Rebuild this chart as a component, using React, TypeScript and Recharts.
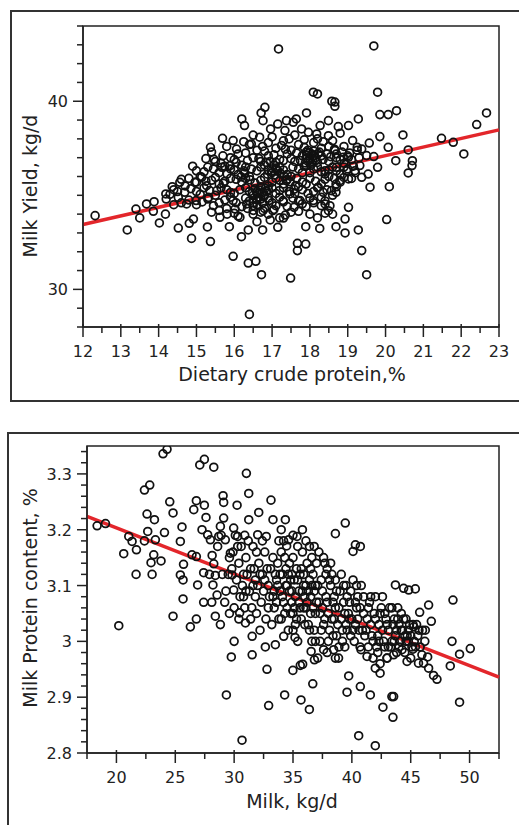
import { ScatterChart, Scatter, XAxis, YAxis, ReferenceLine, ReferenceArea } from "recharts";

const FONT = "'DejaVu Sans', Verdana, sans-serif";
const INK = "#222";
const RED = "#e3262b";

type Pt = [number, number];

// ---- top panel: dietary crude protein (%) vs milk yield (kg/d) ----
const yieldSparse: Pt[] = [
  [12.32, 33.92], [13.17, 33.16], [13.4, 34.27], [13.5, 33.8], [13.68, 34.54], [13.88, 34.66],
  [13.86, 34.15], [14.02, 33.53], [14.19, 35.07], [14.18, 34.0], [14.36, 35.46], [14.52, 33.26],
  [14.87, 32.71], [14.81, 33.51], [14.92, 33.74], [15.29, 33.32], [15.37, 32.54], [15.37, 37.55],
  [15.69, 38.03], [15.46, 36.91], [15.62, 33.83], [15.87, 33.33], [15.97, 31.76], [16.37, 31.4],
  [16.57, 31.49], [16.72, 30.78], [16.4, 28.67], [17.49, 30.6], [17.17, 42.78], [19.69, 42.94],
  [19.79, 40.48], [19.37, 32.06], [19.5, 30.78], [20.03, 33.71], [20.1, 35.46], [21.48, 38.03],
  [21.79, 37.82], [22.07, 37.2], [22.41, 38.76], [22.67, 39.38], [20.29, 39.5], [20.07, 39.29],
  [19.85, 39.29], [20.46, 38.21], [20.6, 37.41], [20.71, 36.84], [20.7, 36.58], [20.6, 36.19],
  [20.27, 36.84], [20.07, 37.55], [19.85, 38.12], [19.79, 36.49], [19.59, 35.43], [19.57, 37.78],
  [19.28, 39.06], [19.02, 38.71], [19.02, 35.87], [19.02, 34.36], [18.93, 33.74], [18.93, 33.0],
  [18.69, 33.33], [19.28, 33.16], [18.26, 33.24], [17.89, 33.33], [18.0, 34.0], [17.67, 32.45],
  [17.89, 32.41], [17.67, 32.06], [17.58, 34.36], [17.15, 33.3], [17.3, 33.79], [16.95, 33.69],
  [16.75, 33.16], [16.37, 33.16], [16.19, 32.8], [18.53, 34.45], [18.49, 34.18], [18.4, 34.54],
  [18.09, 40.48], [18.2, 40.39], [17.91, 39.38], [18.58, 40.0], [18.66, 39.96], [18.66, 39.73],
  [16.81, 39.68], [16.71, 39.38], [16.2, 39.06], [16.27, 38.71], [16.76, 38.97], [17.15, 38.79],
  [17.38, 38.97], [17.64, 39.06], [17.56, 38.88], [18.49, 38.97], [18.27, 38.71], [18.75, 38.65],
  [15.97, 37.91], [16.06, 37.46], [16.96, 38.53], [16.67, 38.09], [16.45, 37.73], [17.34, 38.44],
  [17.78, 38.53], [17.96, 38.35], [18.18, 38.26], [18.49, 38.17], [18.66, 37.38], [19.13, 37.91],
  [19.25, 37.55], [19.37, 37.46], [19.5, 37.11], [19.69, 37.06], [19.32, 36.58], [19.19, 36.31],
  [19.54, 36.13], [19.37, 35.96], [19.02, 37.02], [18.69, 35.6], [18.69, 35.16], [18.35, 35.16],
  [18.4, 36.13],
];

const yieldEdge: Pt[] = [
  [14.56, 35.69], [14.69, 35.16], [14.52, 34.89], [14.74, 34.54], [14.99, 34.72], [14.96, 35.69],
  [15.14, 35.96], [15.27, 35.51], [15.32, 34.89], [15.54, 35.25], [15.71, 35.64], [15.67, 36.49],
  [15.81, 36.13], [15.89, 36.58], [15.97, 34.72], [15.81, 34.0], [16.02, 34.27], [16.15, 33.83],
  [16.33, 34.54], [16.5, 34.0], [16.76, 34.18], [17.02, 34.18], [17.29, 34.72], [17.47, 35.07],
  [17.74, 34.72], [18.09, 34.72], [18.22, 35.43], [18.57, 35.25], [18.79, 35.78], [18.7, 36.49],
  [18.97, 36.31], [18.88, 37.02],
];

const yieldCore: Pt[] = [
  [15.8, 37.6], [16.1, 37.2], [16.4, 37.7], [16.6, 37.4], [16.9, 37.8], [17.1, 37.5], [17.3, 37.9],
  [17.5, 37.4], [17.7, 37.7], [17.9, 37.3], [18.1, 37.8], [18.3, 37.5], [18.5, 37.6], [18.7, 37.2],
  [18.9, 37.6], [17.0, 38.1], [17.6, 38.2], [18.2, 38.0],
  [15.5, 36.8], [15.7, 37.1], [16.0, 36.9], [16.2, 36.6], [16.5, 37.0], [16.7, 36.8], [16.9, 37.1],
  [17.2, 36.9], [17.4, 37.2], [17.6, 36.8], [17.8, 37.1], [18.0, 36.9], [18.05, 37.2], [17.95, 37.4],
  [18.15, 37.0], [18.3, 37.1], [18.5, 36.8], [18.7, 37.0], [18.9, 36.7], [19.1, 36.9], [19.3, 37.0],
  [15.0, 36.3], [15.3, 36.5], [15.6, 36.2], [15.9, 36.4], [16.1, 36.1], [16.3, 36.5], [16.6, 36.3],
  [16.8, 36.6], [17.0, 36.2], [17.2, 36.5], [17.4, 36.1], [17.7, 36.4], [17.9, 36.6], [18.0, 36.2],
  [18.2, 36.5], [18.4, 36.3], [18.6, 36.5], [18.8, 36.1], [19.0, 36.4], [19.2, 36.2],
  [14.8, 35.9], [15.1, 36.0], [15.4, 35.8], [15.6, 35.6], [15.9, 35.9], [16.2, 35.7], [16.4, 36.0],
  [16.7, 35.8], [16.9, 35.5], [17.1, 35.9], [17.3, 35.6], [17.5, 36.0], [17.8, 35.7], [18.0, 35.9],
  [18.3, 35.6], [18.5, 36.0], [18.8, 35.7], [19.1, 35.9],
  [14.4, 35.3], [14.7, 35.5], [15.0, 35.2], [15.2, 35.4], [15.5, 35.0], [15.8, 35.3], [16.0, 35.1],
  [16.3, 35.4], [16.5, 35.0], [16.6, 35.2], [16.8, 35.0], [16.9, 35.3], [17.1, 35.1], [17.3, 35.4],
  [17.6, 35.1], [17.8, 35.3], [18.1, 35.2], [18.3, 34.9], [18.6, 35.0],
  [14.2, 34.8], [14.6, 34.6], [15.0, 34.5], [15.3, 34.8], [15.6, 34.6], [15.9, 34.9], [16.2, 34.4],
  [16.4, 34.7], [16.6, 34.5], [16.7, 34.8], [16.8, 34.3], [17.0, 34.6], [17.2, 34.9], [17.4, 34.4],
  [17.7, 34.7], [17.9, 34.4], [18.1, 34.6], [18.4, 34.7],
  [15.4, 34.1], [15.8, 34.3], [16.1, 33.9], [16.5, 34.2], [16.6, 33.6], [16.9, 34.0], [17.2, 33.8],
  [17.5, 34.1], [18.2, 33.8], [18.6, 34.0],
  [17.9, 36.95], [18.05, 36.7], [18.1, 37.35], [17.85, 36.55], [18.2, 36.75],
  [16.55, 35.35], [16.65, 34.9], [16.75, 35.15], [16.5, 34.6],
  [17.05, 36.6], [17.15, 36.3], [16.95, 36.8],
];

const yieldDense: Pt[] = [
  [16.25, 37.85], [16.75, 37.6], [17.25, 37.65], [17.45, 38.0], [17.85, 37.95], [18.35, 37.85],
  [18.6, 37.9], [16.5, 38.2], [18.8, 38.3],
  [15.4, 37.3], [15.9, 37.0], [16.3, 37.25], [16.8, 37.35], [17.05, 37.15], [17.35, 37.45],
  [17.65, 37.25], [17.85, 37.55], [18.25, 37.3], [18.45, 37.2], [18.65, 37.45], [18.85, 37.3],
  [19.05, 37.25], [19.25, 37.4],
  [15.25, 36.95], [15.65, 36.7], [16.05, 36.75], [16.35, 36.85], [16.65, 36.95], [16.85, 36.75],
  [17.1, 36.75], [17.3, 36.85], [17.5, 36.95], [17.75, 36.85], [17.95, 36.8], [18.15, 36.85],
  [18.35, 36.9], [18.55, 37.05], [18.8, 36.9], [19.0, 37.1],
  [14.9, 36.55], [15.2, 36.25], [15.45, 36.4], [15.75, 36.55], [16.0, 36.35], [16.25, 36.3],
  [16.45, 36.4], [16.7, 36.5], [16.9, 36.35], [17.1, 36.45], [17.3, 36.35], [17.55, 36.5],
  [17.8, 36.2], [18.1, 36.4], [18.3, 36.25], [18.5, 36.35], [18.7, 36.3], [18.9, 36.5], [19.15, 36.55],
  [14.6, 35.85], [15.0, 35.7], [15.25, 35.75], [15.5, 35.95], [15.75, 35.75], [16.05, 35.85],
  [16.3, 35.9], [16.55, 35.65], [16.8, 35.95], [17.0, 35.7], [17.2, 35.8], [17.4, 35.85],
  [17.65, 35.9], [17.9, 35.6], [18.15, 35.75], [18.4, 35.85], [18.65, 35.9], [18.9, 35.95],
  [14.3, 35.05], [14.5, 35.2], [14.85, 35.35], [15.1, 35.05], [15.35, 35.25], [15.65, 35.4],
  [15.9, 35.15], [16.15, 35.3], [16.4, 35.2], [16.7, 35.45], [16.85, 35.2], [17.0, 35.4],
  [17.2, 35.25], [17.45, 35.2], [17.7, 35.45], [17.95, 35.1], [18.2, 35.4], [18.45, 35.3], [18.7, 35.45],
  [14.4, 34.5], [14.8, 34.75], [15.15, 34.65], [15.45, 34.45], [15.75, 34.75], [16.05, 34.6],
  [16.3, 34.85], [16.5, 34.45], [16.6, 34.75], [16.75, 34.6], [16.9, 34.85], [17.1, 34.45],
  [17.3, 34.65], [17.55, 34.85], [17.8, 34.55], [18.0, 34.85], [18.3, 34.45],
  [15.6, 34.2], [16.0, 34.05], [16.35, 34.3], [16.7, 34.1], [17.05, 34.25], [17.35, 33.95],
  [17.7, 34.15], [18.4, 34.05],
];

// darkest knots of the cloud
const yieldBlobs: Pt[] = [
  [16.62, 35.08], [16.78, 34.92], [16.68, 35.28], [16.58, 34.82], [16.82, 35.38], [16.48, 35.12],
  [16.92, 34.72], [17.92, 37.12], [18.08, 36.88], [17.98, 37.28], [18.12, 37.12], [17.88, 36.72],
  [18.22, 37.22], [18.02, 36.58], [17.08, 36.08], [16.98, 36.28], [17.22, 36.18], [17.12, 36.38],
  [16.88, 36.12], [17.32, 36.02], [17.48, 35.72], [17.62, 35.52], [17.38, 35.78], [17.58, 35.32],
  [16.28, 36.18], [16.42, 35.82], [16.18, 35.98],
];

const yieldTrend: Pt[] = [[12, 33.45], [23, 38.48]];

const proteinTicks = [
  12, 12.5, 13, 13.5, 14, 14.5, 15, 15.5, 16, 16.5, 17, 17.5, 18, 18.5, 19, 19.5,
  20, 20.5, 21, 21.5, 22, 22.5, 23,
];
const proteinLabels = [12, 13, 14, 15, 16, 17, 18, 19, 20, 21, 22, 23];
const yieldTicks = [28, 29, 30, 31, 32, 33, 34, 35, 36, 37, 38, 39, 40, 41, 42, 43, 44];
const yieldLabels = [30, 40];

// ---- bottom panel: milk yield (kg/d) vs milk protein content (%) ----
const contentSparse: Pt[] = [
  [18.36, 3.207], [19.07, 3.211], [20.2, 3.028], [20.62, 3.157], [21.05, 3.188], [21.33, 3.179],
  [21.7, 3.164], [21.67, 3.12], [22.38, 3.271], [22.83, 3.28], [22.6, 3.228], [22.66, 3.197],
  [22.38, 3.18], [23.03, 3.12], [22.94, 3.141], [23.17, 3.155], [23.31, 3.182], [23.23, 3.218],
  [23.79, 3.144], [24.08, 3.195], [23.96, 3.336], [24.3, 3.344], [24.53, 3.25], [24.81, 3.23],
  [24.81, 3.045], [25.66, 3.076], [25.43, 3.179], [25.57, 3.205], [25.7, 3.138], [25.43, 3.119],
  [25.66, 3.11], [26.28, 3.026], [26.79, 3.04], [26.42, 3.155], [26.79, 3.152], [26.9, 3.101],
  [26.57, 3.236], [26.79, 3.252], [27.08, 3.316], [27.47, 3.326], [28.27, 3.312], [27.47, 3.244],
  [27.61, 3.222], [27.41, 3.123], [27.41, 3.07], [27.27, 3.2], [27.75, 3.191], [27.98, 3.182],
  [28.13, 3.154], [28.27, 3.139], [28.2, 3.101], [28.4, 3.118], [28.55, 3.083], [28.4, 3.045],
  [28.83, 3.03], [28.69, 3.188], [28.83, 3.206], [29.06, 3.261], [29.11, 3.249], [29.11, 3.221],
  [29.25, 3.182], [29.34, 2.904], [29.76, 2.972], [29.68, 3.158], [29.96, 3.203], [29.82, 3.119],
  [30.25, 3.244], [30.3, 3.188], [29.96, 3.092], [30.47, 3.051], [30.67, 2.823], [31.04, 3.301],
  [31.24, 3.265], [31.24, 3.218], [30.96, 3.033], [31.53, 3.009], [31.53, 2.976], [32.09, 3.231],
  [32.0, 3.191], [32.73, 3.188], [32.79, 2.95], [32.93, 2.885], [33.13, 3.253], [33.3, 3.218],
  [34.35, 3.218], [32.65, 2.99], [33.5, 2.994], [34.21, 3.009], [34.29, 2.904], [34.99, 2.948],
  [34.63, 3.182], [35.34, 3.188], [34.46, 3.171], [35.17, 3.007], [35.62, 2.957], [35.82, 2.959],
  [35.68, 2.895], [36.39, 2.878], [36.68, 2.924], [36.82, 2.967], [36.54, 2.982], [38.6, 3.193],
  [39.44, 3.212], [40.1, 3.161], [40.3, 3.173], [40.72, 3.17], [39.59, 2.909], [39.73, 2.938],
  [40.72, 2.919], [41.57, 2.904], [40.58, 2.831], [41.99, 2.813], [42.64, 2.882], [43.4, 2.901],
  [43.55, 2.901], [43.49, 2.864], [41.99, 2.952], [42.4, 2.943], [43.7, 3.101], [44.4, 3.095],
  [44.83, 3.092], [45.39, 3.094], [45.76, 3.052], [46.52, 3.065], [46.75, 3.036], [48.59, 3.074],
  [48.51, 3.0], [49.15, 2.977], [50.06, 2.987], [48.36, 2.956], [49.15, 2.891], [47.23, 2.932],
  [46.94, 2.939], [46.52, 2.952], [46.09, 2.961], [45.66, 2.961], [44.69, 2.964], [46.44, 2.972],
  [45.95, 2.976], [45.19, 2.986], [45.25, 3.026], [46.24, 3.02], [42.98, 2.97], [43.55, 2.976],
  [44.26, 2.985], [41.29, 2.973], [40.78, 2.985], [38.45, 2.985], [37.6, 2.985], [38.87, 2.97],
];

const contentCore: Pt[] = [
  [30.4, 3.14], [30.8, 3.12], [31.0, 3.15], [31.3, 3.09], [31.6, 3.17], [31.8, 3.11], [32.1, 3.14],
  [32.3, 3.07], [32.6, 3.16], [32.9, 3.1], [33.1, 3.13], [33.4, 3.06], [30.5, 3.08], [30.9, 3.06],
  [31.4, 3.04], [31.9, 3.05], [32.2, 3.02], [32.7, 3.04], [33.0, 3.08], [33.3, 3.15], [31.2, 3.18],
  [32.4, 3.18], [31.7, 3.13], [30.2, 3.11], [29.8, 3.13], [30.6, 3.17], [32.0, 3.1], [33.6, 3.11],
  [33.7, 3.14], [33.9, 3.09], [34.1, 3.12], [34.3, 3.05], [34.5, 3.1], [34.7, 3.14], [34.9, 3.07],
  [35.1, 3.11], [35.3, 3.04], [35.5, 3.09], [35.7, 3.13], [35.9, 3.06], [36.1, 3.1], [36.3, 3.03],
  [36.5, 3.08], [36.7, 3.12], [36.9, 3.05], [34.0, 3.16], [34.6, 3.02], [35.0, 3.15], [35.4, 3.0],
  [35.8, 3.16], [36.2, 3.14], [36.6, 3.0], [34.2, 3.07], [34.8, 3.11], [35.2, 3.08], [35.6, 3.06],
  [36.0, 3.03], [36.4, 3.11], [36.8, 3.09], [33.8, 3.04], [34.4, 3.13], [35.0, 3.05], [35.6, 3.12],
  [36.2, 3.07], [36.8, 3.02], [37.0, 3.14], [33.5, 3.12], [34.9, 3.09], [35.9, 3.1], [36.5, 3.05],
  [37.2, 3.07], [37.4, 3.11], [37.6, 3.03], [37.8, 3.08], [38.0, 3.05], [38.2, 3.1], [38.4, 3.01],
  [38.6, 3.06], [38.8, 3.03], [39.0, 3.09], [39.2, 3.0], [39.4, 3.05], [39.6, 3.02], [39.8, 3.07],
  [40.0, 3.04], [40.2, 3.0], [40.4, 3.06], [40.6, 3.02], [40.8, 3.1], [41.0, 3.05], [37.3, 3.0],
  [37.9, 3.13], [38.3, 3.12], [38.9, 2.99], [39.5, 3.1], [40.1, 3.11], [40.7, 2.99], [37.5, 3.06],
  [38.1, 3.02], [38.7, 3.09], [39.3, 3.07], [39.9, 3.01], [40.5, 3.08], [41.1, 3.01], [37.7, 3.14],
  [38.5, 3.04], [39.1, 3.12], [40.3, 3.03],
  [41.3, 3.04], [41.5, 3.07], [41.7, 3.01], [41.9, 3.05], [42.1, 2.99], [42.3, 3.03], [42.5, 3.06],
  [42.7, 3.0], [42.9, 3.04], [43.1, 3.02], [43.3, 2.99], [43.5, 3.03], [43.7, 3.01], [43.9, 3.04],
  [44.1, 3.0], [44.3, 3.02], [44.5, 2.98], [44.7, 3.01], [44.9, 3.03], [45.1, 2.99], [45.3, 3.0],
  [45.6, 3.01], [41.4, 2.99], [42.0, 3.08], [42.2, 2.98], [42.6, 3.08], [43.0, 2.97], [43.4, 3.06],
  [43.8, 2.98], [44.2, 3.05], [44.6, 3.04], [45.0, 2.97], [45.8, 2.99], [46.0, 3.02], [41.8, 2.97],
  [42.4, 2.96], [42.8, 3.05], [43.6, 3.0], [44.0, 3.03], [44.8, 3.0],
  [34.2, 3.18], [35.4, 3.17], [36.4, 3.17], [37.2, 3.16], [37.6, 3.15], [38.2, 3.14], [35.0, 3.19],
  [33.8, 3.18], [36.8, 3.17],
];

const contentDense: Pt[] = [
  [29.3, 3.09], [29.6, 3.15], [30.0, 3.06], [30.3, 3.17], [30.7, 3.1], [31.1, 3.12], [31.5, 3.06],
  [31.9, 3.16], [32.2, 3.12], [32.5, 3.09], [32.8, 3.13], [33.2, 3.03], [29.5, 3.12], [30.1, 3.19],
  [31.0, 3.09], [31.8, 3.08], [32.6, 3.11], [33.4, 3.09],
  [33.6, 3.07], [33.9, 3.12], [34.1, 3.08], [34.3, 3.15], [34.5, 3.06], [34.7, 3.09], [34.9, 3.12],
  [35.1, 3.06], [35.3, 3.13], [35.5, 3.07], [35.7, 3.04], [35.9, 3.12], [36.1, 3.06], [36.3, 3.09],
  [36.5, 3.13], [36.7, 3.06], [36.9, 3.1], [33.7, 3.1], [34.0, 3.04], [34.6, 3.12], [35.2, 3.03],
  [35.8, 3.09], [36.4, 3.02], [37.0, 3.07], [34.4, 3.1], [35.0, 3.02], [35.4, 3.11], [36.0, 3.08],
  [36.6, 3.1], [34.8, 3.05],
  [37.1, 3.1], [37.3, 3.05], [37.5, 3.09], [37.7, 3.04], [37.9, 3.07], [38.1, 3.11], [38.3, 3.04],
  [38.5, 3.08], [38.7, 3.01], [38.9, 3.06], [39.1, 3.04], [39.3, 3.1], [39.5, 3.03], [39.7, 3.05],
  [39.9, 3.09], [40.1, 3.02], [40.3, 3.07], [40.5, 3.04], [40.7, 3.06], [40.9, 3.02], [37.4, 3.02],
  [38.0, 3.0], [38.6, 3.11], [39.2, 3.02], [39.8, 3.04], [40.4, 3.1], [41.0, 3.08], [37.8, 3.12],
  [38.4, 3.07], [39.6, 3.08],
  [41.2, 3.02], [41.4, 3.06], [41.6, 3.03], [41.8, 3.0], [42.0, 3.04], [42.2, 3.01], [42.4, 3.05],
  [42.6, 3.02], [42.8, 2.99], [43.0, 3.03], [43.2, 3.06], [43.4, 3.0], [43.6, 3.04], [43.8, 3.02],
  [44.0, 2.99], [44.2, 3.02], [44.4, 3.04], [44.6, 3.0], [44.8, 3.02], [45.0, 3.01], [45.2, 3.03],
  [45.4, 2.99], [45.7, 3.02], [46.2, 3.0], [41.6, 3.08], [42.3, 3.0], [43.1, 2.99], [43.9, 3.06],
  [44.5, 3.01], [45.5, 3.03],
];

const contentFill: Pt[] = [
  [27.9, 3.12], [28.6, 3.17], [29.0, 3.12], [29.2, 3.07], [29.9, 3.16], [30.4, 3.04], [30.9, 3.19],
  [31.4, 3.13], [28.1, 3.07], [28.9, 3.19], [29.6, 3.05], [30.8, 3.08], [32.4, 3.12], [31.6, 3.1],
  [30.0, 3.0], [32.9, 3.06], [33.3, 3.08], [34.0, 3.2], [35.8, 3.2], [36.6, 3.15], [36.1, 3.18],
  [36.9, 3.0], [37.9, 2.98], [38.6, 2.97], [39.4, 2.99], [37.1, 2.97],
];

const contentTrend: Pt[] = [[17.5, 3.224], [52.5, 2.936]];

const milkTicks = [17.5, 20, 22.5, 25, 27.5, 30, 32.5, 35, 37.5, 40, 42.5, 45, 47.5, 50, 52.5];
const milkLabels = [20, 25, 30, 35, 40, 45, 50];
const contentTicks = [
  2.8, 2.82, 2.84, 2.86, 2.88, 2.9, 2.92, 2.94, 2.96, 2.98, 3, 3.02, 3.04, 3.06, 3.08,
  3.1, 3.12, 3.14, 3.16, 3.18, 3.2, 3.22, 3.24, 3.26, 3.28, 3.3, 3.32, 3.34,
];
const contentLabels = [2.8, 2.9, 3, 3.1, 3.2, 3.3];

const toRows = (...groups: Pt[][]) => groups.flat().map(([x, y]) => ({ x, y }));

function Ring(props: any) {
  return <circle cx={props.cx} cy={props.cy} r={3.9} fill="none" stroke="#111" strokeWidth={1.75} />;
}

function xTick(labels: number[]) {
  return (p: any) => {
    const major = labels.includes(p.payload.value);
    return (
      <g>
        <line x1={p.x} x2={p.x} y1={p.y - (major ? 3 : 0)} y2={p.y + (major ? 10 : 6)} stroke={INK} strokeWidth={1.5} />
        {major && (
          <text x={p.x} y={p.y + 30} textAnchor="middle" fontSize={16} fontFamily={FONT} fill={INK}>
            {p.payload.value}
          </text>
        )}
      </g>
    );
  };
}

function yTick(labels: number[]) {
  return (p: any) => {
    const major = labels.includes(p.payload.value);
    return (
      <g>
        <line x1={p.x - (major ? 10 : 6)} x2={p.x} y1={p.y} y2={p.y} stroke={INK} strokeWidth={1.5} />
        {major && (
          <text x={p.x - 15} y={p.y + 6} textAnchor="end" fontSize={16} fontFamily={FONT} fill={INK}>
            {String(p.payload.value)}
          </text>
        )}
      </g>
    );
  };
}

const titleStyle: React.CSSProperties = {
  position: "absolute",
  fontFamily: FONT,
  fontSize: 19,
  lineHeight: "19px",
  color: INK,
  whiteSpace: "nowrap",
  transform: "translate(-50%, -50%)",
};

export default function App() {
  const top = toRows(yieldSparse, yieldEdge, yieldCore, yieldDense, yieldBlobs);
  const bottom = toRows(contentSparse, contentCore, contentDense, contentFill);

  return (
    <div style={{ position: "fixed", left: 0, top: 0, width: 519, height: 825, overflow: "hidden", background: "#fff" }}>
      {/* frames */}
      <div style={{ position: "absolute", left: 10, top: 10, width: 520, height: 388, border: "2px solid #333" }} />
      <div style={{ position: "absolute", left: 7, top: 432, width: 520, height: 420, border: "2px solid #333" }} />

      {/* top panel */}
      <div style={{ position: "absolute", left: 0, top: 0 }}>
        <ScatterChart width={519} height={410} margin={{ top: 26, right: 20, bottom: 0, left: 0 }}>
          <XAxis
            type="number"
            dataKey="x"
            domain={[12, 23]}
            ticks={proteinTicks}
            interval={0}
            height={83}
            tickSize={0}
            tickMargin={0}
            tickLine={false}
            axisLine={{ stroke: INK, strokeWidth: 1.5 }}
            tick={xTick(proteinLabels)}
            allowDataOverflow
          />
          <YAxis
            type="number"
            dataKey="y"
            domain={[28, 44]}
            ticks={yieldTicks}
            interval={0}
            width={83}
            tickSize={0}
            tickMargin={0}
            tickLine={false}
            axisLine={{ stroke: INK, strokeWidth: 1.5 }}
            tick={yTick(yieldLabels)}
            allowDataOverflow
          />
          <ReferenceArea x1={12} x2={23} y1={28} y2={44} fill="none" stroke={INK} strokeWidth={1.5} />
          <Scatter data={top} shape={<Ring />} isAnimationActive={false} />
          <ReferenceLine
            segment={yieldTrend.map(([x, y]) => ({ x, y }))}
            stroke={RED}
            strokeWidth={3.5}
            ifOverflow="visible"
          />
        </ScatterChart>
      </div>
      <div style={{ ...titleStyle, left: 292, top: 374 }}>Dietary crude protein,%</div>
      <div style={{ ...titleStyle, left: 30, top: 186, transform: "translate(-50%, -50%) rotate(-90deg)" }}>
        Milk Yield, kg/d
      </div>

      {/* bottom panel */}
      <div style={{ position: "absolute", left: 0, top: 420 }}>
        <ScatterChart width={519} height={405} margin={{ top: 26, right: 20, bottom: 0, left: 0 }}>
          <XAxis
            type="number"
            dataKey="x"
            domain={[17.5, 52.5]}
            ticks={milkTicks}
            interval={0}
            height={72}
            tickSize={0}
            tickMargin={0}
            tickLine={false}
            axisLine={{ stroke: INK, strokeWidth: 1.5 }}
            tick={xTick(milkLabels)}
            allowDataOverflow
          />
          <YAxis
            type="number"
            dataKey="y"
            domain={[2.8, 3.35]}
            ticks={contentTicks}
            interval={0}
            width={87}
            tickSize={0}
            tickMargin={0}
            tickLine={false}
            axisLine={{ stroke: INK, strokeWidth: 1.5 }}
            tick={yTick(contentLabels)}
            allowDataOverflow
          />
          <ReferenceArea x1={17.5} x2={52.5} y1={2.8} y2={3.35} fill="none" stroke={INK} strokeWidth={1.5} />
          <Scatter data={bottom} shape={<Ring />} isAnimationActive={false} />
          <ReferenceLine
            segment={contentTrend.map(([x, y]) => ({ x, y }))}
            stroke={RED}
            strokeWidth={3.5}
            ifOverflow="visible"
          />
        </ScatterChart>
      </div>
      <div style={{ ...titleStyle, left: 292, top: 801 }}>Milk, kg/d</div>
      <div style={{ ...titleStyle, left: 30, top: 598, transform: "translate(-50%, -50%) rotate(-90deg)" }}>
        Milk Protein content, %
      </div>
    </div>
  );
}
